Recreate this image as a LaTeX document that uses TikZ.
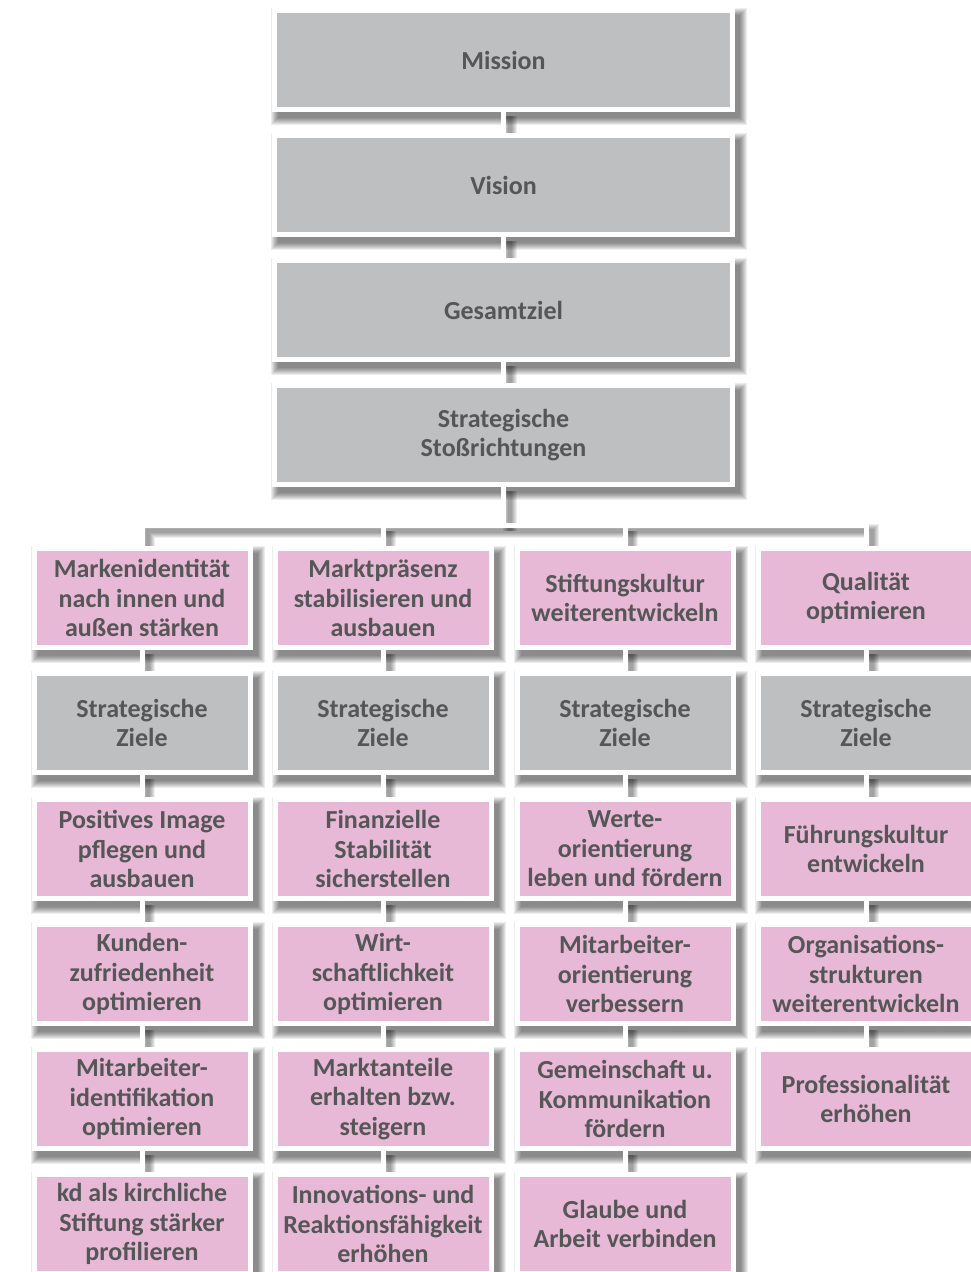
\documentclass[tikz,border=0pt]{standalone}
\usepackage{fontspec}
\setmainfont{Carlito}
\definecolor{boxgrey}{HTML}{BEBFC1}
\definecolor{boxpink}{HTML}{E8B9D6}
\definecolor{txtgrey}{HTML}{555658}
\pgfdeclarelayer{shad}
\pgfdeclarelayer{conn}
\pgfsetlayers{shad,conn,main}
\tikzset{
  box/.style={draw=white, line width=5pt, minimum width=216pt, minimum height=99pt,
    inner sep=0pt, outer sep=0pt, align=center, text=txtgrey,
    font=\fontsize{26}{29.5}\selectfont\bfseries},
  greybox/.style={box, fill=boxgrey},
  pinkbox/.style={box, fill=boxpink},
  widebox/.style={minimum width=458pt},
  connline/.style={draw=white, line width=5pt},
}
\newcommand\boxshadow[1]{%
  \begin{pgfonlayer}{shad}
  \foreach \e in {0,1,...,7}{
    \fill[black,opacity=0.07] ([shift={(3.5-\e,4.5-\e)}]#1.north west)
      rectangle ([shift={(7.5+\e,8.5+\e)}]#1.south east);
  }
  \end{pgfonlayer}}
\newcommand\connect[1]{%
  \begin{pgfonlayer}{shad}
  \foreach \w in {4,6,8,10,12,14}{
    \draw[black,opacity=0.07,line width=\w pt,transform canvas={shift={(6pt,-6pt)}}] #1;
  }
  \end{pgfonlayer}
  \begin{pgfonlayer}{conn}\draw[connline] #1;\end{pgfonlayer}}
\begin{document}
\begin{tikzpicture}[x=1pt,y=-1pt]
\useasboundingbox (0,0) rectangle (970,1272);
\begin{pgfonlayer}{shad}\fill[white] (0,0) rectangle (970,1272);\end{pgfonlayer}

% top column
\node[greybox,widebox] (mission) at (503.5,60) {Mission};
\node[greybox,widebox] (vision) at (503.5,185) {Vision};
\node[greybox,widebox] (gesamt) at (503.5,310) {Gesamtziel};
\node[greybox,widebox] (stoss) at (503.5,435) {Strategische\\Stoßrichtungen};

% column 1
\node[pinkbox] (a1) at (142,598) {Markenidentität\\nach innen und\\außen stärken};
\node[greybox] (a2) at (142,723) {Strategische\\Ziele};
\node[pinkbox] (a3) at (142,849) {Positives Image\\pflegen und\\ausbauen};
\node[pinkbox] (a4) at (142,974) {Kunden-\\zufriedenheit\\optimieren};
\node[pinkbox] (a5) at (142,1099) {Mitarbeiter-\\identifikation\\optimieren};
\node[pinkbox] (a6) at (142,1224) {kd als kirchliche\\Stiftung stärker\\profilieren};

% column 2
\node[pinkbox] (b1) at (383,598) {Marktpräsenz\\stabilisieren und\\ausbauen};
\node[greybox] (b2) at (383,723) {Strategische\\Ziele};
\node[pinkbox] (b3) at (383,849) {Finanzielle\\Stabilität\\sicherstellen};
\node[pinkbox] (b4) at (383,974) {Wirt-\\schaftlichkeit\\optimieren};
\node[pinkbox] (b5) at (383,1099) {Marktanteile\\erhalten bzw.\\steigern};
\node[pinkbox] (b6) at (383,1224) {Innovations- und\\Reaktionsfähigkeit\\erhöhen};

% column 3
\node[pinkbox] (c1) at (625,598) {Stiftungskultur\\weiterentwickeln};
\node[greybox] (c2) at (625,723) {Strategische\\Ziele};
\node[pinkbox] (c3) at (625,849) {Werte-\\orientierung\\leben und fördern};
\node[pinkbox] (c4) at (625,974) {Mitarbeiter-\\orientierung\\verbessern};
\node[pinkbox] (c5) at (625,1099) {Gemeinschaft u.\\Kommunikation\\fördern};
\node[pinkbox] (c6) at (625,1224) {Glaube und\\Arbeit verbinden};

% column 4
\node[pinkbox] (d1) at (866,598) {Qualität\\optimieren};
\node[greybox] (d2) at (866,723) {Strategische\\Ziele};
\node[pinkbox] (d3) at (866,849) {Führungskultur\\entwickeln};
\node[pinkbox] (d4) at (866,974) {Organisations-\\strukturen\\weiterentwickeln};
\node[pinkbox] (d5) at (866,1099) {Professionalität\\erhöhen};

\foreach \n in {mission,vision,gesamt,stoss,a1,a2,a3,a4,a5,a6,b1,b2,b3,b4,b5,b6,c1,c2,c3,c4,c5,c6,d1,d2,d3,d4,d5}{\boxshadow{\n}}

\coordinate (bar) at (503.5,525);
\connect{(mission.south) -- (vision.north)}
\connect{(vision.south) -- (gesamt.north)}
\connect{(gesamt.south) -- (stoss.north)}
\connect{(stoss.south) -- (bar)}
\connect{(a1.north) |- (bar) -| (d1.north)}
\connect{(b1.north) -- (b1.north |- bar)}
\connect{(c1.north) -- (c1.north |- bar)}
\foreach \col in {a,b,c}{
  \foreach \r/\s in {1/2,2/3,3/4,4/5,5/6}{
    \connect{(\col\r.south) -- (\col\s.north)}
  }
}
\foreach \r/\s in {1/2,2/3,3/4,4/5}{
  \connect{(d\r.south) -- (d\s.north)}
}
\end{tikzpicture}
\end{document}
